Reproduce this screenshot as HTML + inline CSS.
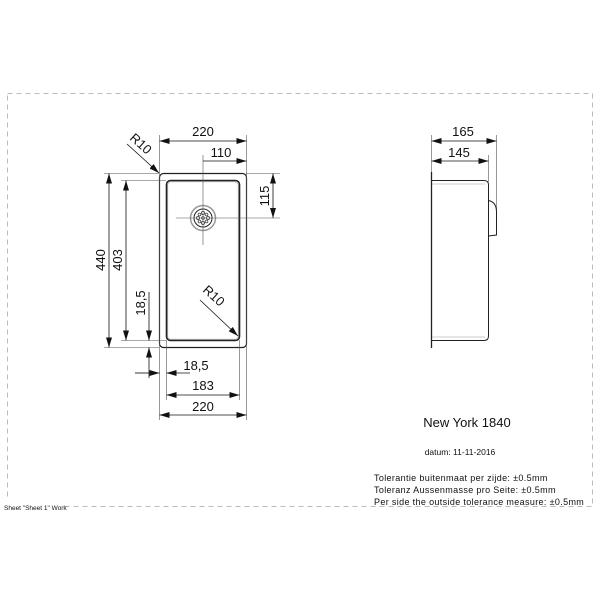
<!DOCTYPE html>
<html><head><meta charset="utf-8"><style>
html,body{margin:0;padding:0;background:#fff;width:600px;height:600px;overflow:hidden}
svg text{font-family:"Liberation Sans",sans-serif;fill:#111}
</style></head><body>
<svg width="600" height="600" viewBox="0 0 600 600">
<defs>
<marker id="a" viewBox="0 0 10 6" refX="10" refY="3" markerWidth="10" markerHeight="6" markerUnits="userSpaceOnUse" orient="auto-start-reverse"><path d="M0,0 L10,3 L0,6z" fill="#111"/></marker>
</defs>
<rect x="7.5" y="93.5" width="585" height="413" fill="none" stroke="#bbb" stroke-width="1" stroke-dasharray="5,4"/>
<rect x="0" y="500" width="60" height="10" fill="#fff"/>
<text x="4" y="510" font-size="6.5" fill="#555">Sheet "Sheet 1" Work</text>

<g stroke="#222" fill="none" stroke-width="1">
<rect x="159.5" y="173.5" width="87" height="174" rx="4" stroke-width="1.2"/>
<rect x="166.5" y="180.5" width="73" height="160" rx="4" stroke-width="1.6"/>
<rect x="167.8" y="181.8" width="70.4" height="157.4" rx="3" stroke="#999" stroke-width="0.6"/>
<circle cx="203" cy="218" r="12.5" stroke="#999" stroke-width="1.5"/>
<circle cx="203" cy="218" r="9" stroke="#222"/>
</g>
<g fill="none" stroke="#444" stroke-width="0.8">
<circle cx="203" cy="213" r="1.6"/><circle cx="203" cy="223" r="1.6"/><circle cx="198" cy="218" r="1.6"/><circle cx="208" cy="218" r="1.6"/>
<circle cx="199.5" cy="214.5" r="1.4"/><circle cx="206.5" cy="214.5" r="1.4"/><circle cx="199.5" cy="221.5" r="1.4"/><circle cx="206.5" cy="221.5" r="1.4"/><circle cx="203" cy="218" r="1.4"/>
</g>
<g stroke="#555" stroke-width="0.6" fill="none">
<line x1="203" y1="155" x2="203" y2="245"/>
<line x1="176" y1="218" x2="280" y2="218"/>
<line x1="159.5" y1="135" x2="159.5" y2="420"/>
<line x1="246.5" y1="135" x2="246.5" y2="420"/>
<line x1="239.5" y1="340" x2="239.5" y2="400"/>
<line x1="166.5" y1="340" x2="166.5" y2="400"/>
<line x1="246" y1="173.5" x2="280" y2="173.5"/>
<line x1="104" y1="173.5" x2="159" y2="173.5"/>
<line x1="104" y1="347.5" x2="159" y2="347.5"/>
<line x1="121" y1="180.5" x2="166" y2="180.5"/>
<line x1="121" y1="340.5" x2="166" y2="340.5"/>
<line x1="135" y1="373" x2="159" y2="373"/>
</g>
<g stroke="#111" stroke-width="0.8" fill="none">
<line x1="159.5" y1="141" x2="246.5" y2="141" marker-start="url(#a)" marker-end="url(#a)"/>
<line x1="203" y1="161" x2="246.5" y2="161" marker-end="url(#a)"/>
<line x1="273" y1="173.5" x2="273" y2="218" marker-start="url(#a)" marker-end="url(#a)"/>
<line x1="109" y1="173.5" x2="109" y2="347.5" marker-start="url(#a)" marker-end="url(#a)"/>
<line x1="126" y1="180.5" x2="126" y2="340.5" marker-start="url(#a)" marker-end="url(#a)"/>
<line x1="149" y1="292" x2="149" y2="340.5" marker-end="url(#a)"/>
<line x1="149" y1="378" x2="149" y2="347.5" marker-end="url(#a)"/>
<line x1="135" y1="373" x2="159.5" y2="373" marker-end="url(#a)"/>
<line x1="190" y1="373" x2="166.5" y2="373" marker-end="url(#a)"/>
<line x1="166.5" y1="395" x2="239.5" y2="395" marker-start="url(#a)" marker-end="url(#a)"/>
<line x1="159.5" y1="415" x2="246.5" y2="415" marker-start="url(#a)" marker-end="url(#a)"/>
<line x1="127" y1="144" x2="159" y2="173" marker-end="url(#a)"/>
<line x1="200" y1="300" x2="238" y2="336" marker-end="url(#a)"/>
</g>
<g font-size="13">
<text x="203" y="136" text-anchor="middle">220</text>
<text x="221" y="157" text-anchor="middle">110</text>
<text x="203" y="411" text-anchor="middle">220</text>
<text x="203" y="390" text-anchor="middle">183</text>
<text x="196" y="370" text-anchor="middle">18,5</text>
<text transform="translate(269,196) rotate(-90)" text-anchor="middle">115</text>
<text transform="translate(105,260) rotate(-90)" text-anchor="middle">440</text>
<text transform="translate(122,260) rotate(-90)" text-anchor="middle">403</text>
<text transform="translate(145,303) rotate(-90)" text-anchor="middle">18,5</text>
<text transform="translate(129,139) rotate(42)">R10</text>
<text transform="translate(202,291) rotate(42)">R10</text>
<text x="463" y="136" text-anchor="middle">165</text>
<text x="459" y="157" text-anchor="middle">145</text>
</g>
<g stroke="#555" stroke-width="0.6" fill="none">
<line x1="431.5" y1="135" x2="431.5" y2="175"/>
<line x1="496.5" y1="135" x2="496.5" y2="215"/>
<line x1="488.5" y1="155" x2="488.5" y2="182"/>
</g>
<g stroke="#111" stroke-width="0.8" fill="none">
<line x1="431.5" y1="141" x2="496.5" y2="141" marker-start="url(#a)" marker-end="url(#a)"/>
<line x1="431.5" y1="161" x2="488.5" y2="161" marker-start="url(#a)" marker-end="url(#a)"/>
</g>
<g stroke="#222" fill="none" stroke-width="1">
<line x1="431.5" y1="172" x2="431.5" y2="348" stroke-width="1.3"/>
<path d="M431.5,180.5 H484 Q488.5,180.5 488.5,185 V336 Q488.5,340.5 484,340.5 H431.5"/>
<path d="M488.5,200.5 Q496.5,202 496.5,212 V235 L488.5,236"/>
</g>
<g stroke="#999" stroke-width="0.6"><line x1="432" y1="184" x2="485" y2="184"/><line x1="432" y1="337" x2="485" y2="337"/></g>
<text x="467" y="427" font-size="13" text-anchor="middle">New York 1840</text>
<text x="460" y="455" font-size="8.5" text-anchor="middle">datum: 11-11-2016</text>
<g font-size="9" letter-spacing="0.35"><text x="374" y="481">Tolerantie buitenmaat per zijde: ±0.5mm</text>
<text x="374" y="493">Toleranz Aussenmasse pro Seite: ±0.5mm</text>
<text x="374" y="505">Per side the outside tolerance measure: ±0.5mm</text></g>
</svg>
</body></html>
